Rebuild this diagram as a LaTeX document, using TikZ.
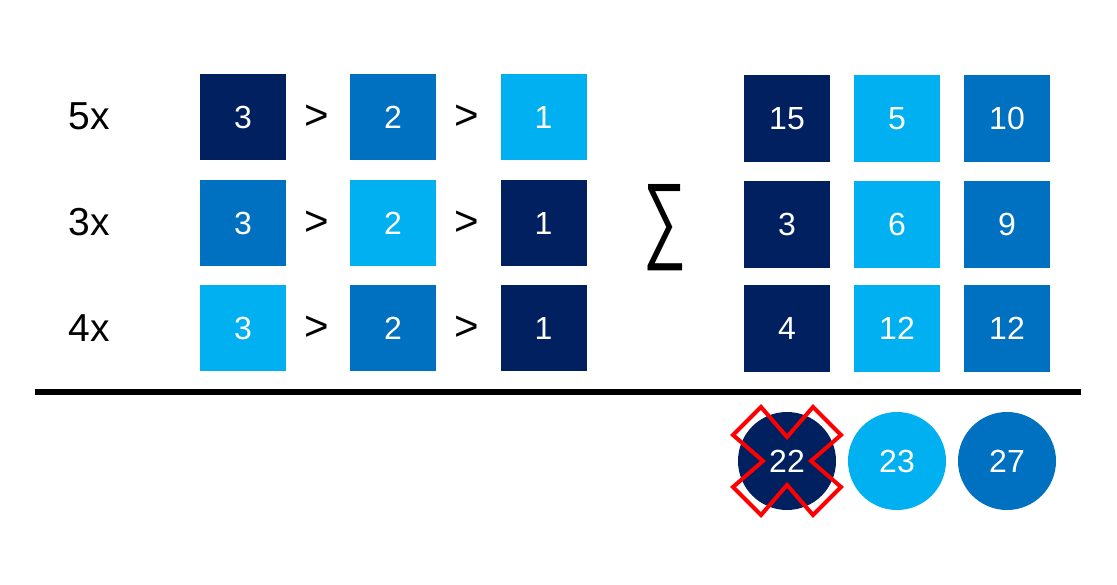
\documentclass[tikz,border=0pt]{standalone}
\usepackage{fontspec}
\setmainfont{Liberation Sans}
\definecolor{navy}{HTML}{002060}
\definecolor{midblue}{HTML}{0070C0}
\definecolor{lightblue}{HTML}{00B0F0}
\begin{document}
\begin{tikzpicture}[x=1pt,y=-1pt,
  sq/.style={rectangle,minimum width=86pt,minimum height=86pt,inner sep=0pt,text=white,font=\fontsize{32}{37}\selectfont},
  circ/.style={circle,minimum size=98pt,inner sep=0pt,text=white,font=\fontsize{32}{37}\selectfont},
  gt/.style={inner sep=0pt,font=\fontsize{42}{48}\selectfont},
  lbl/.style={inner sep=0pt,font=\fontsize{39}{44}\selectfont}]
\useasboundingbox (0,0) rectangle (1117,585);
% row labels
\node[lbl] (l1) at (89,116) {5x};
\node[lbl] (l2) at (89,222) {3x};
\node[lbl] (l3) at (89,328) {4x};
% left squares
\node[sq,fill=navy] (a11) at (243,117) {3};
\node[gt] (g11) at (317,117) {>};
\node[sq,fill=midblue] (a12) at (393,117) {2};
\node[gt] (g12) at (467,117) {>};
\node[sq,fill=lightblue] (a13) at (543.5,117) {1};
\node[sq,fill=midblue] (a21) at (243,223) {3};
\node[gt] (g21) at (317,223) {>};
\node[sq,fill=lightblue] (a22) at (393,223) {2};
\node[gt] (g22) at (467,223) {>};
\node[sq,fill=navy] (a23) at (543.5,223) {1};
\node[sq,fill=lightblue] (a31) at (243,328.5) {3};
\node[gt] (g31) at (317,328.5) {>};
\node[sq,fill=midblue] (a32) at (393,328.5) {2};
\node[gt] (g32) at (467,328.5) {>};
\node[sq,fill=navy] (a33) at (543.5,328.5) {1};
% sigma
\node[inner sep=0pt] (sig) at (664.5,228) {\resizebox{43pt}{66pt}{∑}};
% right squares
\node[sq,fill=navy,minimum height=87pt] (b11) at (787,118.5) {15};
\node[sq,fill=lightblue,minimum height=87pt] (b12) at (897,118.5) {5};
\node[sq,fill=midblue,minimum height=87pt] (b13) at (1007,118.5) {10};
\node[sq,fill=navy,minimum height=87pt] (b21) at (787,224.5) {3};
\node[sq,fill=lightblue,minimum height=87pt] (b22) at (897,224.5) {6};
\node[sq,fill=midblue,minimum height=87pt] (b23) at (1007,224.5) {9};
\node[sq,fill=navy,minimum height=87pt] (b31) at (787,328.5) {4};
\node[sq,fill=lightblue,minimum height=87pt] (b32) at (897,328.5) {12};
\node[sq,fill=midblue,minimum height=87pt] (b33) at (1007,328.5) {12};
% rule
\coordinate (r1) at (35,392);
\coordinate (r2) at (1081,392);
\draw[line width=6pt] (r1) -- (r2);
% circles
\node[circ,fill=navy] (c1) at (787,461) {22};
\node[circ,fill=lightblue] (c2) at (897,461) {23};
\node[circ,fill=midblue] (c3) at (1007,461) {27};
% cross
\draw[red,line width=4pt,line join=miter] (c1.center)
  ++(0,-24) -- ++(26,-30) -- ++(28,28) -- ++(-30,26)
  -- ++(30,26) -- ++(-28,28) -- ++(-26,-30)
  -- ++(-26,30) -- ++(-28,-28) -- ++(30,-26)
  -- ++(-30,-26) -- ++(28,-28) -- cycle;
\end{tikzpicture}
\end{document}
